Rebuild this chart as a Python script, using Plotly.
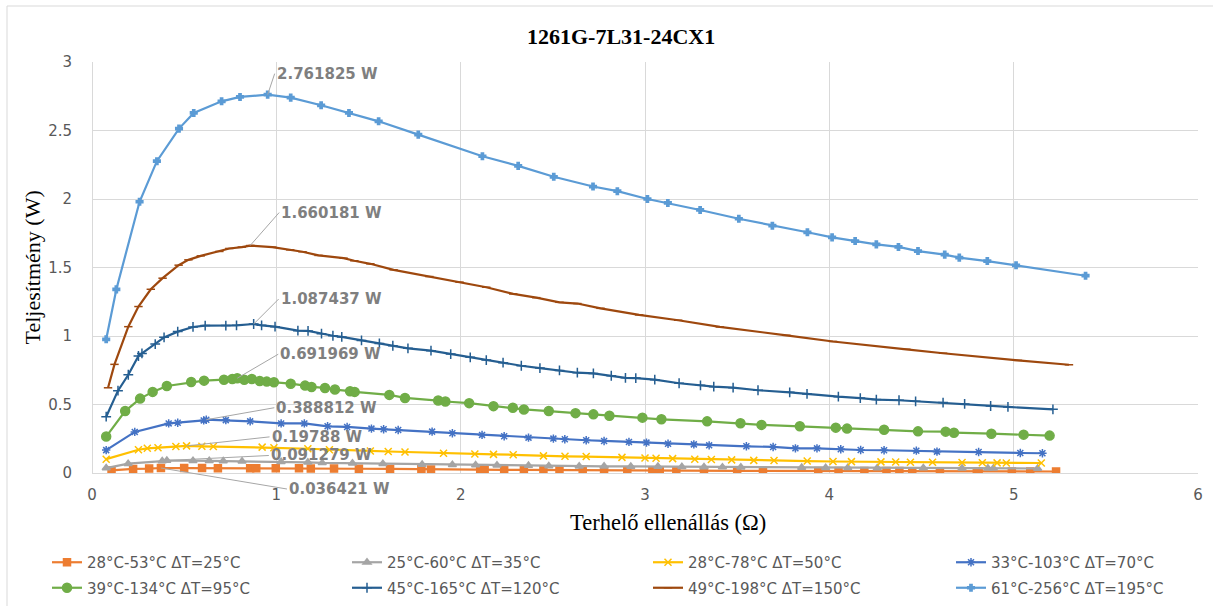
import plotly.graph_objects as go

# ---------------- data ----------------
names = ["28°C-53°C ΔT=25°C", "25°C-60°C ΔT=35°C", "28°C-78°C ΔT=50°C", "33°C-103°C ΔT=70°C",
         "39°C-134°C ΔT=95°C", "45°C-165°C ΔT=120°C", "49°C-198°C ΔT=150°C", "61°C-256°C ΔT=195°C"]

x_25 = [0.106, 0.223, 0.310, 0.374, 0.500, 0.597, 0.683, 0.858, 0.891, 0.997, 1.123, 1.187, 1.313, 1.448, 1.617,
        1.787, 1.839, 2.106, 2.130, 2.236, 2.343, 2.449, 2.536, 2.662, 2.778, 2.904, 3.04, 3.08, 3.17, 3.32, 3.50,
        3.64, 3.94, 4.05, 4.19, 4.31, 4.38, 4.45, 4.60, 4.80, 4.81, 4.99, 5.09, 5.23]
y_25 = [0.019, 0.030, 0.032, 0.036421, 0.036, 0.036, 0.035, 0.035, 0.035, 0.035, 0.034, 0.033, 0.032, 0.031, 0.030,
        0.027, 0.026, 0.025, 0.024, 0.023, 0.023, 0.022, 0.021, 0.021, 0.020, 0.020, 0.019, 0.018, 0.018, 0.017, 0.016,
        0.016, 0.015, 0.015, 0.014, 0.014, 0.014, 0.013, 0.013, 0.012, 0.012, 0.011, 0.011, 0.011]

x_35 = [0.077, 0.196, 0.381, 0.406, 0.548, 0.636, 0.712, 0.814, 1.026, 1.171, 1.249, 1.413, 1.578, 1.791, 1.955,
        2.081, 2.197, 2.368, 2.478, 2.643, 2.778, 2.923, 3.07, 3.20, 3.32, 3.42, 3.52, 3.85, 3.98, 4.10, 4.26, 4.51,
        4.72, 4.86, 4.89, 5.13]
y_35 = [0.036, 0.068, 0.087, 0.091279, 0.090, 0.089, 0.088, 0.086, 0.083, 0.078, 0.074, 0.071, 0.067, 0.062, 0.060,
        0.058, 0.056, 0.054, 0.052, 0.050, 0.049, 0.048, 0.047, 0.045, 0.044, 0.043, 0.042, 0.040, 0.039, 0.038, 0.037,
        0.036, 0.035, 0.035, 0.034, 0.033]

x_50 = [0.077, 0.252, 0.300, 0.358, 0.455, 0.513, 0.596, 0.658, 0.923, 0.987, 1.171, 1.288, 1.510, 1.607, 1.698,
        1.907, 2.077, 2.178, 2.285, 2.449, 2.566, 2.681, 2.875, 3.0, 3.06, 3.15, 3.27, 3.36, 3.47, 3.59, 3.70, 3.88,
        4.02, 4.12, 4.28, 4.36, 4.44, 4.56, 4.72, 4.83, 4.91, 4.96, 5.15]
y_50 = [0.101, 0.170, 0.180, 0.184, 0.194, 0.19788, 0.195, 0.194, 0.189, 0.184, 0.177, 0.170, 0.161, 0.157, 0.153,
        0.144, 0.139, 0.136, 0.133, 0.125, 0.122, 0.120, 0.114, 0.110, 0.108, 0.105, 0.101, 0.098, 0.096, 0.092, 0.091,
        0.087, 0.084, 0.083, 0.081, 0.080, 0.079, 0.078, 0.076, 0.075, 0.074, 0.073, 0.073]

x_70 = [0.077, 0.232, 0.416, 0.465, 0.606, 0.620, 0.726, 0.858, 1.026, 1.152, 1.278, 1.384, 1.516, 1.582, 1.661,
        1.845, 1.955, 2.116, 2.236, 2.368, 2.503, 2.565, 2.681, 2.778, 2.913, 3.008, 3.125, 3.265, 3.348, 3.550, 3.695,
        3.816, 3.933, 4.062, 4.170, 4.297, 4.472, 4.584, 4.810, 5.036, 5.156]
y_70 = [0.167, 0.300, 0.362, 0.367, 0.384, 0.388812, 0.386, 0.377, 0.362, 0.362, 0.341, 0.336, 0.324, 0.319, 0.314,
        0.302, 0.290, 0.278, 0.268, 0.258, 0.251, 0.246, 0.239, 0.234, 0.227, 0.222, 0.214, 0.209, 0.202, 0.195, 0.190,
        0.180, 0.180, 0.173, 0.168, 0.166, 0.163, 0.156, 0.153, 0.146, 0.144]

x_95 = [0.077, 0.180, 0.261, 0.329, 0.406, 0.538, 0.608, 0.716, 0.761, 0.788, 0.826, 0.867, 0.910, 0.948, 0.987,
        1.078, 1.156, 1.191, 1.264, 1.318, 1.400, 1.425, 1.613, 1.698, 1.878, 1.917, 2.046, 2.178, 2.283, 2.343, 2.478,
        2.623, 2.720, 2.807, 2.986, 3.089, 3.337, 3.518, 3.632, 3.840, 4.035, 4.096, 4.297, 4.481, 4.631, 4.676, 4.879,
        5.054, 5.195]
y_95 = [0.266, 0.452, 0.543, 0.592, 0.635, 0.664, 0.674, 0.681, 0.686, 0.691969, 0.681, 0.686, 0.671, 0.667, 0.662,
        0.652, 0.638, 0.628, 0.621, 0.609, 0.597, 0.592, 0.570, 0.548, 0.529, 0.522, 0.510, 0.488, 0.476, 0.464, 0.452,
        0.437, 0.428, 0.418, 0.404, 0.392, 0.377, 0.363, 0.351, 0.341, 0.331, 0.324, 0.316, 0.304, 0.302, 0.294, 0.287,
        0.280, 0.273]

x_120 = [0.077, 0.141, 0.197, 0.252, 0.271, 0.343, 0.391, 0.465, 0.548, 0.614, 0.726, 0.784, 0.877, 0.920, 0.993,
         1.117, 1.172, 1.245, 1.307, 1.355, 1.462, 1.559, 1.632, 1.714, 1.839, 1.946, 2.052, 2.139, 2.230, 2.329, 2.430,
         2.536, 2.633, 2.720, 2.817, 2.894, 2.950, 3.053, 3.185, 3.301, 3.373, 3.478, 3.613, 3.785, 3.879, 4.049, 4.168,
         4.255, 4.378, 4.468, 4.617, 4.734, 4.875, 4.969, 5.213]
y_120 = [0.411, 0.601, 0.717, 0.854, 0.873, 0.941, 0.990, 1.032, 1.066, 1.076, 1.076, 1.078, 1.087437, 1.078, 1.068,
         1.039, 1.037, 1.017, 1.002, 0.993, 0.968, 0.946, 0.929, 0.910, 0.893, 0.868, 0.844, 0.824, 0.805, 0.783, 0.766,
         0.749, 0.732, 0.727, 0.710, 0.695, 0.693, 0.681, 0.655, 0.640, 0.630, 0.623, 0.604, 0.589, 0.577, 0.557, 0.547,
         0.536, 0.531, 0.523, 0.514, 0.504, 0.489, 0.482, 0.465]

x_150 = [0.087, 0.122, 0.197, 0.252, 0.319, 0.383, 0.470, 0.523, 0.590, 0.691, 0.745, 0.813, 0.858, 0.978, 1.075,
         1.142, 1.229, 1.365, 1.423, 1.510, 1.636, 1.830, 1.994, 2.139, 2.285, 2.410, 2.536, 2.633, 2.759, 2.968, 3.180,
         3.406, 3.767, 4.020, 4.418, 4.617, 5.023, 5.300]
y_150 = [0.622, 0.793, 1.068, 1.215, 1.341, 1.422, 1.517, 1.556, 1.585, 1.617, 1.639, 1.649, 1.660181, 1.649, 1.629,
         1.615, 1.588, 1.568, 1.549, 1.527, 1.483, 1.434, 1.393, 1.356, 1.307, 1.280, 1.246, 1.237, 1.202, 1.154, 1.115,
         1.066, 1.005, 0.960, 0.903, 0.874, 0.822, 0.790]

x_195 = [0.077, 0.132, 0.258, 0.352, 0.472, 0.552, 0.703, 0.803, 0.953, 1.078, 1.243, 1.394, 1.555, 1.770, 2.118,
         2.312, 2.505, 2.718, 2.850, 3.013, 3.124, 3.299, 3.509, 3.691, 3.881, 4.015, 4.140, 4.255, 4.375, 4.481, 4.626,
         4.705, 4.857, 5.013, 5.390]
y_195 = [0.976, 1.34, 1.98, 2.276, 2.514, 2.628, 2.713, 2.745, 2.761825, 2.740, 2.684, 2.628, 2.567, 2.470, 2.312,
         2.242, 2.162, 2.091, 2.057, 2.000, 1.971, 1.920, 1.856, 1.805, 1.757, 1.720, 1.693, 1.669, 1.650, 1.620, 1.594,
         1.572, 1.547, 1.516, 1.440]

xs = [x_25, x_35, x_50, x_70, x_95, x_120, x_150, x_195]
ys = [y_25, y_35, y_50, y_70, y_95, y_120, y_150, y_195]

# ---------------- styles ----------------
colors = ["#ED7D31", "#A5A5A5", "#FFC000", "#4472C4", "#70AD47", "#255E91", "#9E480E", "#5B9BD5"]
symbols = ["square", "triangle-up", "x-thin-open", "asterisk-open", "circle", "cross-thin-open", "line-ew-open", "cross"]
msizes = [7, 7, 7, 7, 9, 7, 6, 5.5]
legends = ["legend", "legend2", "legend3", "legend4", "legend", "legend2", "legend3", "legend4"]
# label leader offsets (pixels from the peak point to the label)
label_dx = [126, 102, 83, 68, 41, 25, 29, 7]
label_dy = [21, -5, -9, -12, -24, -25, -33, -21]

SANS = "DejaVu Sans"
SERIF = "Times New Roman, Liberation Serif, serif"

W, H = 1213, 606
L, R, T, B = 92, 15, 62, 133
PW, PH = W - L - R, H - T - B


def px(x):
    return (x - L) / PW


def py(y):
    return (H - B - y) / PH


fig = go.Figure()
for i in range(8):
    fig.add_trace(go.Scatter(
        x=xs[i], y=ys[i], name=names[i], mode="lines+markers",
        line=dict(color=colors[i], width=2.2),
        marker=dict(symbol=symbols[i], size=msizes[i], color=colors[i],
                    line=dict(color=colors[i], width=1.5)),
        legend=legends[i], legendgroup=names[i],
    ))

annotations = []
for i in range(8):
    k = max(range(len(ys[i])), key=lambda j: ys[i][j])
    annotations.append(dict(
        x=xs[i][k], y=ys[i][k], xref="x", yref="y",
        text=f"{ys[i][k]} W", showarrow=True, arrowhead=0, arrowwidth=1, arrowcolor="#A6A6A6",
        ax=label_dx[i], ay=label_dy[i], xanchor="left", yanchor="middle",
        font=dict(family=SANS, size=15, color="#7F7F7F", weight="bold"),
    ))

annotations.append(dict(text="1261G-7L31-24CX1", x=px(621), y=py(37), xref="paper", yref="paper",
                        showarrow=False, xanchor="center", yanchor="middle",
                        font=dict(family=SERIF, size=22, color="#000000", weight="bold")))
annotations.append(dict(text="Terhelő ellenállás (Ω)", x=px(668), y=py(522), xref="paper", yref="paper",
                        showarrow=False, xanchor="center", yanchor="middle",
                        font=dict(family=SERIF, size=22.5, color="#000000")))
annotations.append(dict(text="Teljesítmény (W)", x=px(32), y=0.5, xref="paper", yref="paper",
                        showarrow=False, xanchor="center", yanchor="middle", textangle=-90,
                        font=dict(family=SERIF, size=22, color="#000000")))

legend_common = dict(orientation="v", xanchor="left", yanchor="top", y=py(546),
                     font=dict(family=SANS, size=15, color="#595959"),
                     bgcolor="rgba(0,0,0,0)", tracegroupgap=3, itemclick=False)

fig.update_layout(
    width=W, height=H,
    margin=dict(l=L, r=R, t=T, b=B, autoexpand=False),
    paper_bgcolor="white", plot_bgcolor="white",
    showlegend=True,
    hovermode=False,
    legend=dict(x=px(47), **legend_common),
    legend2=dict(x=px(347), **legend_common),
    legend3=dict(x=px(648), **legend_common),
    legend4=dict(x=px(951), **legend_common),
    xaxis=dict(range=[0, 6], dtick=1, tick0=0, showgrid=True, gridcolor="#D9D9D9", gridwidth=1,
               zeroline=True, zerolinecolor="#D9D9D9", zerolinewidth=1, showline=False, ticks="",
               tickfont=dict(family=SANS, size=15, color="#595959"), ticklabelstandoff=11),
    yaxis=dict(range=[0, 3], dtick=0.5, tick0=0, showgrid=True, gridcolor="#D9D9D9", gridwidth=1,
               zeroline=True, zerolinecolor="#D9D9D9", zerolinewidth=1, showline=False, ticks="",
               tickfont=dict(family=SANS, size=15, color="#595959"), ticklabelstandoff=19),
    annotations=annotations,
    shapes=[
        dict(type="line", xref="paper", yref="paper", x0=px(7), x1=px(1213), y0=py(6), y1=py(6),
             line=dict(color="#D9D9D9", width=1)),
        dict(type="line", xref="paper", yref="paper", x0=px(7), x1=px(7), y0=py(6), y1=py(606),
             line=dict(color="#D9D9D9", width=1)),
    ],
)

fig.write_html("out.html", config={"displayModeBar": False},
               post_script="document.body.style.margin='0';document.body.style.overflow='hidden';")
